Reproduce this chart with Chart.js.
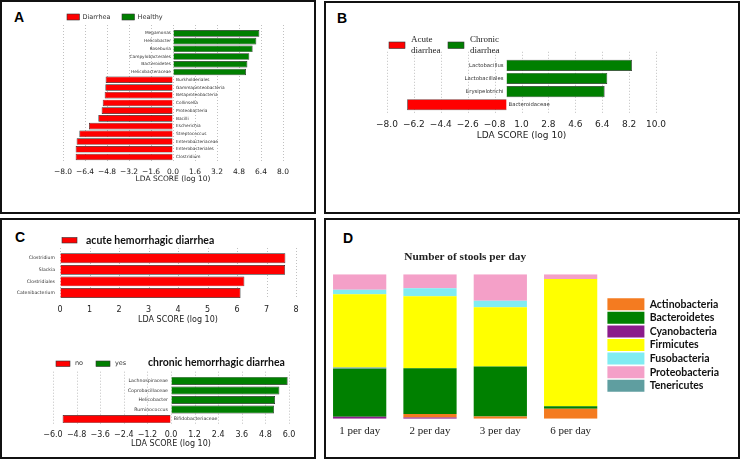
<!DOCTYPE html>
<html>
<head>
<meta charset="utf-8">
<title>LDA scores and phyla by stool frequency</title>
<script src="https://cdn.jsdelivr.net/npm/chart.js"></script>
<style>
  body { margin: 0; background: #fff; width: 740px; height: 460px; overflow: hidden; position: relative; }
  .panel { position: absolute; box-sizing: border-box; border: 2px solid #111; }
  .tag { position: absolute; font: bold 14px "Liberation Sans", Arial, sans-serif; line-height: 14px; color: #000; }
  canvas { position: absolute; }
</style>
</head>
<body>
<div class="panel" style="left:0;top:0;width:316px;height:214px"></div>
<div class="panel" style="left:324px;top:1px;width:416px;height:213px"></div>
<div class="panel" style="left:0;top:218px;width:316px;height:241px"></div>
<div class="panel" style="left:324px;top:218px;width:416px;height:241px"></div>
<div class="tag" style="left:14px;top:10px">A</div>
<div class="tag" style="left:337px;top:11px">B</div>
<div class="tag" style="left:15px;top:230px">C</div>
<div class="tag" style="left:343px;top:231px">D</div>

<canvas id="chartA" width="290" height="180" style="left:20px;top:5px"></canvas>
<canvas id="chartB" width="405" height="140" style="left:330px;top:5px"></canvas>
<canvas id="chartC1" width="307" height="100" style="left:5px;top:228px"></canvas>
<canvas id="chartC2" width="307" height="106" style="left:5px;top:345px"></canvas>
<canvas id="chartD" width="408" height="220" style="left:324px;top:235px"></canvas>

<script>
// ---- data ----
// A: diarrhea vs healthy
const aTaxa = ['Megamonas', 'Helicobacter', 'Roseburia', 'Campylobacterales', 'Bacteroidetes',
  'Helicobacteraceae', 'Burkholderiales', 'Gammaproteobacteria', 'Betaproteobacteria', 'Collinsella',
  'Proteobacteria', 'Bacilli', 'Escherichia', 'Streptococcus', 'Enterobacteriaceae',
  'Enterobacteriales', 'Clostridium'];
const aDiarrhea = [null, null, null, null, null, null, -4.90, -4.92, -4.97, -5.11, -5.19, -5.43,
  -6.11, -6.81, -7.01, -7.08, -7.08];
const aHealthy = [6.28, 6.06, 5.79, 5.55, 5.41, 5.31, null, null, null, null, null, null,
  null, null, null, null, null];

// B: acute vs chronic diarrhea
const bTaxa = ['Lactobacillus', 'Lactobacillales', 'Erysipelotrichi', 'Bacteroidaceae'];
const bAcute = [null, null, null, -6.65];
const bChronic = [8.39, 6.74, 6.56, null];

// C: hemorrhagic diarrhea
const c1Taxa = ['Clostridium', 'Slackia', 'Clostridiales', 'Catenibacterium'];
const c1Acute = [7.64, 7.63, 6.25, 6.12];
const c2Taxa = ['Lachnospiraceae', 'Coprobacillaceae', 'Helicobacter', 'Ruminococcus', 'Bifidobacteriaceae'];
const c2No = [null, null, null, null, -5.51];
const c2Yes = [5.93, 5.51, 5.29, 5.24, null];

// D: relative abundance (%) by number of stools per day
const dDays = ['1 per day', '2 per day', '3 per day', '6 per day'];
const phylaOrder = ['Actinobacteria', 'Bacteroidetes', 'Cyanobacteria', 'Firmicutes',
  'Fusobacteria', 'Proteobacteria', 'Tenericutes'];
const cyanobacteria = [1.4, 0.9, 0, 0];
const actinobacteria = [0, 2.5, 1.6, 7.0];
const bacteroidetes = [33.2, 31.6, 34.6, 1.6];
const tenericutes = [0.9, 0, 0, 0];
const firmicutes = [50.7, 49.8, 41.0, 88.2];
const fusobacteria = [3.0, 5.5, 4.4, 0];
const proteobacteria = [10.8, 9.7, 18.4, 3.2];

const RED = '#ff0000';
const GREEN = '#007f00';

// ---- small plugins ----
// dotted vertical grid, a bit taller than the bars
const dotGrid = {
  id: 'dotGrid',
  beforeDatasetsDraw(chart, args, opts) {
    const {ctx, chartArea} = chart;
    const x = chart.scales.x;
    ctx.save();
    ctx.strokeStyle = '#b0b0b0';
    ctx.lineWidth = 0.8;
    ctx.setLineDash([1, 2]);
    x.ticks.forEach(t => {
      const px = Math.round(x.getPixelForValue(t.value)) + 0.5;
      ctx.beginPath();
      ctx.moveTo(px, chartArea.top - opts.above);
      ctx.lineTo(px, chartArea.bottom + opts.below);
      ctx.stroke();
    });
    ctx.restore();
  }
};

// taxon names next to the zero line (LEfSe style)
const barNames = {
  id: 'barNames',
  afterDatasetsDraw(chart, args, opts) {
    const {ctx} = chart;
    const x = chart.scales.x, y = chart.scales.y;
    const zero = x.getPixelForValue(0);
    ctx.save();
    ctx.font = opts.size + 'px "DejaVu Sans"';
    ctx.fillStyle = '#333';
    ctx.textBaseline = 'middle';
    chart.data.labels.forEach((name, i) => {
      let v = 0;
      chart.data.datasets.forEach(ds => { if (ds.data[i] != null) v = ds.data[i]; });
      const py = y.getPixelForValue(i);
      if (v > 0) {
        ctx.textAlign = 'right';
        ctx.fillText(name, zero - opts.gapL, py);
      } else {
        ctx.textAlign = 'left';
        ctx.fillText(name, zero + opts.gapR, py);
      }
    });
    ctx.restore();
  }
};

// the little matplotlib style legend
const boxLegend = {
  id: 'boxLegend',
  afterDraw(chart, args, opts) {
    const {ctx} = chart;
    ctx.save();
    ctx.textBaseline = 'middle';
    ctx.textAlign = 'left';
    chart.data.datasets.forEach((ds, i) => {
      const bx = opts.xs[i];
      ctx.fillStyle = ds.backgroundColor;
      ctx.fillRect(bx, opts.y, opts.w, opts.h);
      ctx.strokeStyle = '#333';
      ctx.lineWidth = 0.6;
      ctx.strokeRect(bx, opts.y, opts.w, opts.h);
      ctx.font = opts.font;
      ctx.fillStyle = opts.color;
      ds.label.split('\n').forEach((ln, k) => {
        ctx.fillText(ln, bx + opts.w + opts.gap, opts.ty + k * (opts.lh || 0));
      });
    });
    if (opts.heading) {
      ctx.font = opts.heading.font;
      ctx.fillStyle = '#111';
      ctx.fillText(opts.heading.text, opts.heading.x, opts.heading.y);
    }
    ctx.restore();
  }
};

function fmt1(v) {
  if (Math.abs(v) < 1e-9) v = 0;
  return v.toFixed(1).replace('-', '\u2212');
}

function ldaChart(id, taxa, datasets, c) {
  return new Chart(document.getElementById(id), {
    type: 'bar',
    data: { labels: taxa, datasets: datasets },
    options: {
      indexAxis: 'y',
      responsive: false,
      animation: false,
      layout: { padding: c.pad },
      datasets: { bar: { barPercentage: 0.85, categoryPercentage: 1, borderWidth: 0.7, borderColor: '#222' } },
      scales: {
        x: {
          min: c.min, max: c.max, stacked: true,
          grid: { display: true, drawOnChartArea: false, drawTicks: true, tickLength: c.tick, color: 'rgba(0,0,0,0)' },
          border: { display: false },
          ticks: {
            stepSize: c.step, padding: 0, autoSkip: false, maxRotation: 0, color: '#222',
            font: { family: 'DejaVu Sans', size: c.font, lineHeight: 1 },
            callback: c.fmt || fmt1
          },
          title: {
            display: true, text: 'LDA SCORE (log 10)', color: '#222',
            font: { family: 'DejaVu Sans', size: c.font, lineHeight: 1 },
            padding: { top: c.titleGap, bottom: 0 }
          }
        },
        y: { display: false, stacked: true }
      },
      plugins: {
        legend: { display: false },
        tooltip: { enabled: false },
        dotGrid: c.grid,
        barNames: c.names,
        boxLegend: c.legend
      }
    },
    plugins: [dotGrid, barNames, boxLegend]
  });
}

// ---- A ----
ldaChart('chartA', aTaxa, [
  { label: 'Diarrhea', data: aDiarrhea, backgroundColor: RED },
  { label: 'Healthy', data: aHealthy, backgroundColor: GREEN }
], {
  min: -8, max: 8, step: 1.6, font: 7.5, tick: 7, titleGap: 0,
  pad: { left: 43, right: 27, top: 24.5, bottom: 2.1 },
  grid: { above: 4.5, below: 1 },
  names: { size: 4.3, gapL: 2, gapR: 3 },
  legend: { xs: [47, 102], y: 9, w: 12.5, h: 6, gap: 3, ty: 12, font: '6.5px "DejaVu Sans"', color: '#333' }
});

// ---- B ----
ldaChart('chartB', bTaxa, [
  { label: 'Acute\ndiarrhea', data: bAcute, backgroundColor: RED },
  { label: 'Chronic\ndiarrhea', data: bChronic, backgroundColor: GREEN }
], {
  min: -8, max: 10, step: 1.8, font: 9, tick: 9.2, titleGap: 2,
  pad: { left: 57, right: 79, top: 53.8, bottom: 4.5 },
  grid: { above: 7, below: 2 },
  names: { size: 5.3, gapL: 3, gapR: 2 },
  legend: { xs: [59, 118], y: 37, w: 16, h: 6.5, gap: 6, ty: 35, lh: 11, font: '9px "Liberation Serif"', color: '#222' }
});

// ---- C (top) ----
ldaChart('chartC1', c1Taxa, [
  { label: 'acute hemorrhagic diarrhea', data: c1Acute, backgroundColor: RED }
], {
  min: 0, max: 8, step: 1, font: 8, tick: 7.2, titleGap: 2,
  fmt: v => String(v),
  pad: { left: 55, right: 16, top: 24.5, bottom: 4 },
  grid: { above: 4.5, below: 0 },
  names: { size: 4.6, gapL: 5, gapR: 3 },
  legend: { xs: [57], y: 9.5, w: 15, h: 5.5, gap: 9, ty: 12.5, font: 'bold 10.5px Lato', color: '#111' }
});

// ---- C (bottom) ----
ldaChart('chartC2', c2Taxa, [
  { label: 'no', data: c2No, backgroundColor: RED },
  { label: 'yes', data: c2Yes, backgroundColor: GREEN }
], {
  min: -6, max: 6, step: 1.2, font: 8, tick: 7.2, titleGap: 1.3,
  pad: { left: 48, right: 23, top: 31.2, bottom: 2.7 },
  grid: { above: 4.5, below: 0 },
  names: { size: 4.7, gapL: 3, gapR: 2.7 },
  legend: {
    xs: [51, 91], y: 16, w: 14, h: 5.5, gap: 5, ty: 18.7, font: '6.5px "DejaVu Sans"', color: '#333',
    heading: { text: 'chronic hemorrhagic diarrhea', x: 143, y: 18, font: 'bold 10.5px Lato' }
  }
});

// ---- D ----
new Chart(document.getElementById('chartD'), {
  type: 'bar',
  data: {
    labels: dDays,
    datasets: [
      { label: 'Cyanobacteria', data: cyanobacteria, backgroundColor: '#8b1c8b' },
      { label: 'Actinobacteria', data: actinobacteria, backgroundColor: '#f47b20' },
      { label: 'Bacteroidetes', data: bacteroidetes, backgroundColor: '#008000' },
      { label: 'Tenericutes', data: tenericutes, backgroundColor: '#5f9ea0' },
      { label: 'Firmicutes', data: firmicutes, backgroundColor: '#ffff00' },
      { label: 'Fusobacteria', data: fusobacteria, backgroundColor: '#80ecf2' },
      { label: 'Proteobacteria', data: proteobacteria, backgroundColor: '#f4a0c8' }
    ]
  },
  options: {
    responsive: false,
    animation: false,
    layout: { padding: { left: 0.5, right: 3, top: 0, bottom: 0 } },
    datasets: { bar: { barPercentage: 0.757, categoryPercentage: 1, borderWidth: 0 } },
    scales: {
      x: {
        stacked: true,
        grid: { display: true, drawOnChartArea: false, drawTicks: true, tickLength: 7.2, color: 'rgba(0,0,0,0)' },
        border: { display: false },
        ticks: { padding: 0, color: '#222', font: { family: 'Liberation Serif', size: 11, lineHeight: 1 } },
        afterFit: s => { s.height += 18; }
      },
      y: { stacked: true, min: 0, max: 100, display: false }
    },
    plugins: {
      tooltip: { enabled: false },
      title: {
        display: true, text: 'Number of stools per day', fullSize: false, color: '#222',
        font: { family: 'Liberation Serif', weight: 'bold', size: 11.3 },
        padding: { top: 14.9, bottom: 10.8 }
      },
      legend: {
        position: 'right',
        labels: {
          boxWidth: 37, boxHeight: 12, padding: 1.6, color: '#111',
          font: { family: 'Lato', weight: 'bold', size: 10.5 },
          sort: (a, b) => phylaOrder.indexOf(a.text) - phylaOrder.indexOf(b.text)
        }
      }
    }
  }
});
</script>
</body>
</html>
